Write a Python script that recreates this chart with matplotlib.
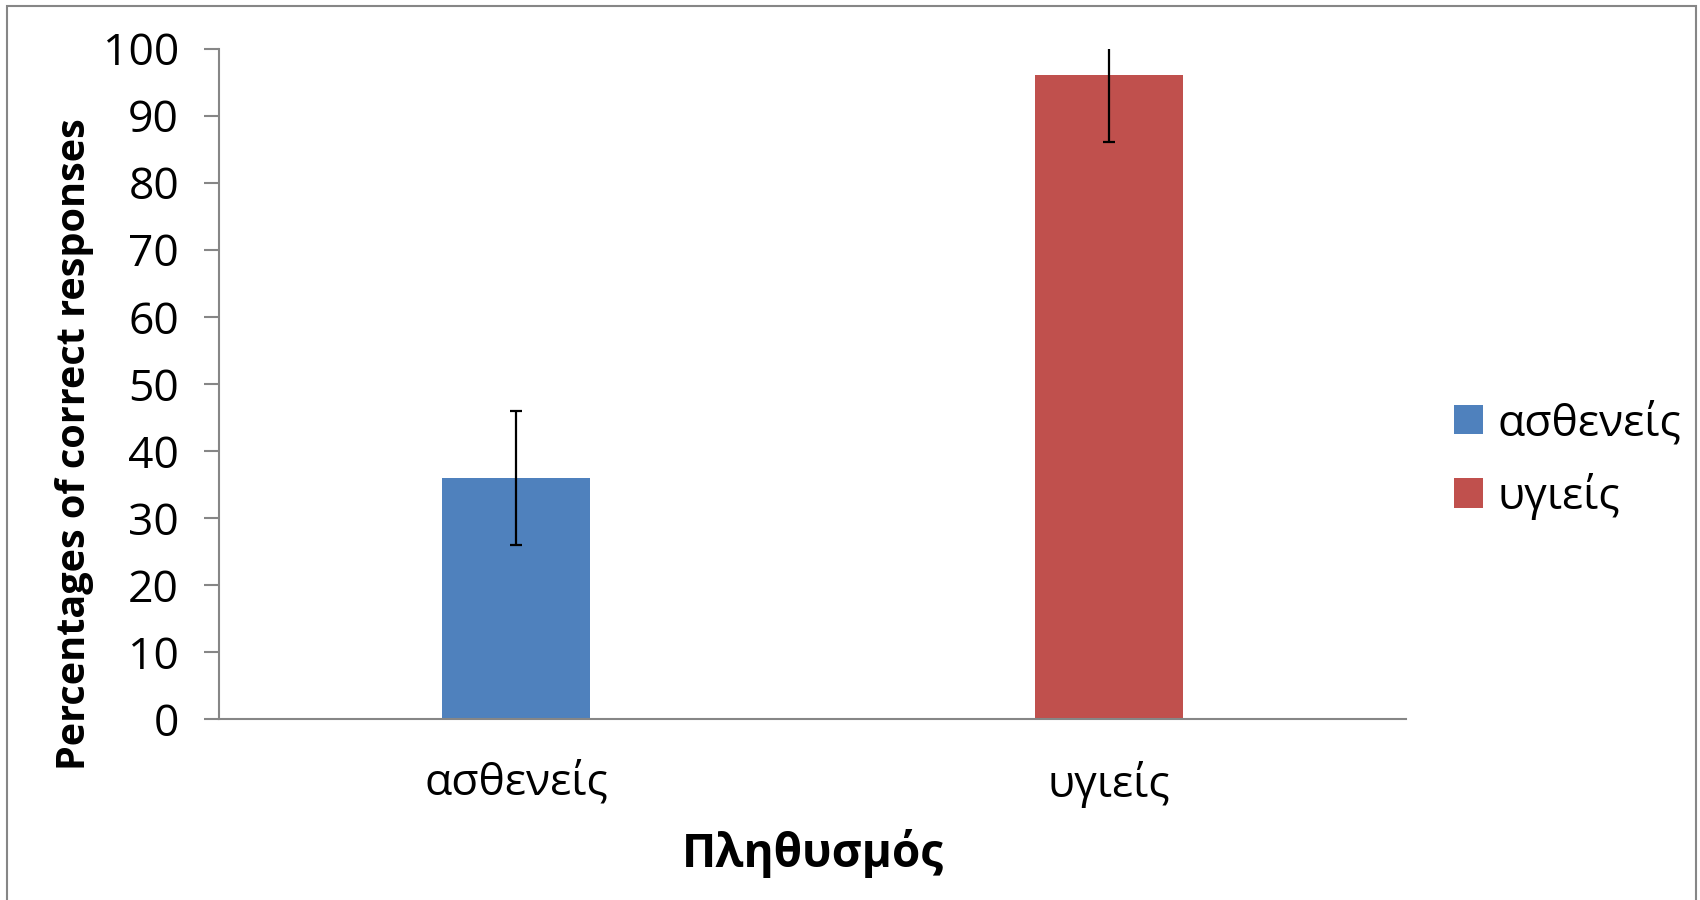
import matplotlib.pyplot as plt
from matplotlib.patches import Rectangle

# data
groups = ['ασθενείς', 'υγιείς']
means = [36, 96]
errors = [10, 10]
colors = ['#4F81BD', '#C0504D']
yticks = [0, 10, 20, 30, 40, 50, 60, 70, 80, 90, 100]

plt.rcParams['font.family'] = ['Open Sans', 'DejaVu Sans']

fig = plt.figure(figsize=(17, 9), dpi=100)
ax = fig.add_axes([0.129, 0.201, 0.698, 0.745])

for i, (g, m, e, c) in enumerate(zip(groups, means, errors, colors)):
    ax.bar(i, m, width=0.25, color=c, label=g, zorder=2)
    ax.errorbar(i, m, yerr=e, fmt='none', ecolor='black', elinewidth=1.6,
                capsize=4.5, capthick=1.6, zorder=3)

ax.set_xlim(-0.5, 1.5)
ax.set_ylim(0, 100)
ax.set_yticks(yticks)
ax.set_xticks(range(len(groups)))
ax.set_xticklabels(groups)

for s in ['top', 'right']:
    ax.spines[s].set_visible(False)
for s in ['left', 'bottom']:
    ax.spines[s].set_color('#868686')
    ax.spines[s].set_linewidth(1.5)

ax.tick_params(axis='y', length=11, width=1.5, color='#868686', labelsize=32, pad=18)
ax.tick_params(axis='x', length=0, labelsize=32, pad=30)

ax.set_ylabel('Percentages of correct responses', fontsize=28.5, fontweight='bold')
ax.yaxis.set_label_coords(-0.106, 0.41)
ax.set_xlabel('Πληθυσμός', fontsize=33, fontweight='bold', labelpad=15)

ax.legend(loc='center left', bbox_to_anchor=(0.845, 0.488), bbox_transform=fig.transFigure,
          frameon=False, fontsize=32, handlelength=0.65, handleheight=0.65,
          handletextpad=0.32, labelspacing=0.6, borderaxespad=0)

# outer chart border
fig.patches.append(Rectangle((0.0042, -0.01), 0.9935, 1.003, transform=fig.transFigure,
                             fill=False, edgecolor='#868686', linewidth=1.5))

fig.savefig('out.png', dpi=100)
